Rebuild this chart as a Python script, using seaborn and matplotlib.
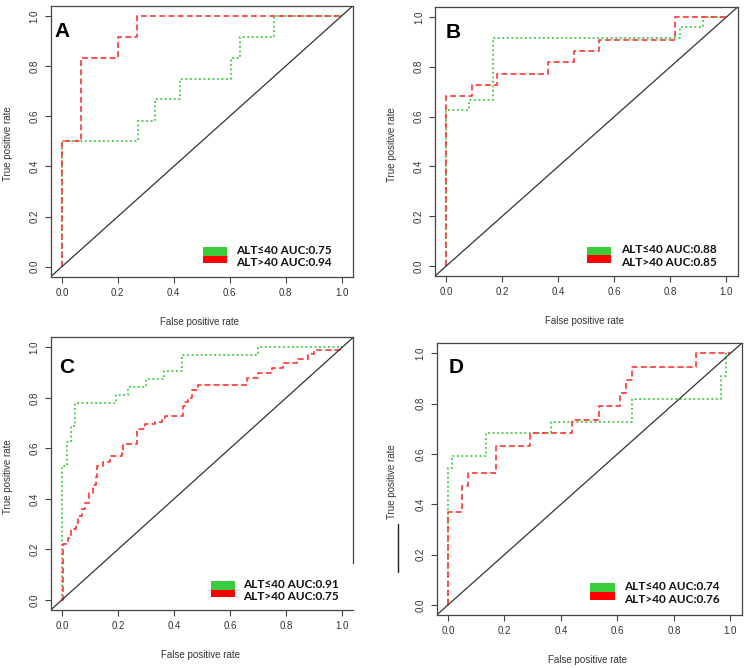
import numpy as np
import pandas as pd
import matplotlib
matplotlib.use('Agg')
import matplotlib.pyplot as plt
from matplotlib.patches import Rectangle
import seaborn as sns

# ROC curves, corner points (steps-post)
a_green_fpr = [0, 0, 0.273, 0.333, 0.424, 0.606, 0.636, 0.758, 1.0]
a_green_tpr = [0, 0.5, 0.583, 0.667, 0.75, 0.833, 0.917, 1.0, 1.0]
a_red_fpr = [0, 0, 0.067, 0.2, 0.267, 1.0]
a_red_tpr = [0, 0.5, 0.833, 0.917, 1.0, 1.0]

b_green_fpr = [0, 0, 0.083, 0.167, 0.833, 0.917, 1.0]
b_green_tpr = [0, 0.625, 0.667, 0.917, 0.958, 1.0, 1.0]
b_red_fpr = [0, 0, 0.091, 0.182, 0.364, 0.455, 0.545, 0.818, 1.0]
b_red_tpr = [0, 0.682, 0.727, 0.773, 0.818, 0.864, 0.909, 1.0, 1.0]

c_green_fpr = [0, 0.001, 0.017, 0.032, 0.046, 0.193, 0.236, 0.299, 0.364, 0.43, 0.70, 1.0]
c_green_tpr = [0, 0.531, 0.625, 0.6875, 0.781, 0.8125, 0.844, 0.875, 0.906, 0.969, 1.0, 1.0]
c_red_fpr = [0, 0.005, 0.023, 0.032, 0.049, 0.058, 0.07, 0.082, 0.098, 0.11, 0.12, 0.127,
             0.148, 0.171, 0.213, 0.219, 0.267, 0.296, 0.332, 0.356, 0.368, 0.433, 0.441,
             0.451, 0.463, 0.487, 0.66, 0.70, 0.749, 0.79, 0.838, 0.88, 0.898, 0.993, 1.0]
c_red_tpr = [0, 0.22, 0.247, 0.279, 0.306, 0.334, 0.36, 0.385, 0.424, 0.455, 0.488, 0.53,
             0.547, 0.569, 0.582, 0.616, 0.675, 0.698, 0.705, 0.721, 0.73, 0.767, 0.785,
             0.80, 0.832, 0.852, 0.878, 0.898, 0.918, 0.937, 0.954, 0.972, 0.99, 1.0, 1.0]

d_green_fpr = [0, 0, 0.015, 0.133, 0.366, 0.65, 0.967, 0.985, 1.0]
d_green_tpr = [0, 0.545, 0.591, 0.682, 0.727, 0.818, 0.909, 1.0, 1.0]
d_red_fpr = [0, 0, 0.051, 0.07, 0.17, 0.292, 0.438, 0.536, 0.609, 0.632, 0.653, 0.879, 1.0]
d_red_tpr = [0, 0.368, 0.474, 0.526, 0.632, 0.684, 0.737, 0.789, 0.842, 0.895, 0.947, 1.0, 1.0]

panel_letters = ['A', 'B', 'C', 'D']
auc_green = [0.75, 0.88, 0.91, 0.74]
auc_red = [0.94, 0.85, 0.75, 0.76]
ticks = [0.0, 0.2, 0.4, 0.6, 0.8, 1.0]

curves = [
    (a_green_fpr, a_green_tpr, a_red_fpr, a_red_tpr),
    (b_green_fpr, b_green_tpr, b_red_fpr, b_red_tpr),
    (c_green_fpr, c_green_tpr, c_red_fpr, c_red_tpr),
    (d_green_fpr, d_green_tpr, d_red_fpr, d_red_tpr),
]

sns.set_style('white')
plt.rcParams['font.family'] = ['Liberation Sans', 'DejaVu Sans']

W, H = 751, 668
fig = plt.figure(figsize=(W / 100, H / 100), dpi=100)

# axes boxes in pixels: left, top, right, bottom
boxes = [(50.7, 6, 352.7, 276.7), (435, 7, 737.7, 276),
         (50.7, 337.3, 353.3, 610), (436.7, 343.3, 741.7, 615)]
letter_pos = [(0.014, 0.905), (0.035, 0.907), (0.028, 0.89), (0.038, 0.91)]
legend_x = [0.503, 0.503, 0.529, 0.503]
legend_text_x = [0.614, 0.614, 0.636, 0.615]
legend_y = [(0.109, 0.0765, 0.0495), (0.109, 0.0765, 0.0495),
            (0.107, 0.073, 0.047), (0.117, 0.0835, 0.055)]

GREEN = '#3acc3a'
RED = '#ff3333'
axis_col = '#444444'

for i, (l, t, r, b) in enumerate(boxes):
    ax = fig.add_axes([l / W, (H - b) / H, (r - l) / W, (b - t) / H])
    gf, gt, rf, rt = curves[i]
    sns.lineplot(x=gf, y=gt, ax=ax, estimator=None, sort=False, drawstyle='steps-post',
                 color=GREEN, linestyle=(0, (1, 1.5)), linewidth=1.3)
    sns.lineplot(x=rf, y=rt, ax=ax, estimator=None, sort=False, drawstyle='steps-post',
                 color=RED, linestyle=(0, (3.5, 2)), linewidth=1.2)
    ax.axline((0, 0), (1, 1), color='#333333', linewidth=0.9)
    ax.set_xlim(-0.04, 1.04)
    ax.set_ylim(-0.04, 1.04)
    ax.set_xticks(ticks)
    ax.set_yticks(ticks)
    ax.set_xticklabels([f'{v:.1f}' for v in ticks])
    ax.set_yticklabels([f'{v:.1f}' for v in ticks], rotation=90, va='center')
    ax.tick_params(direction='out', length=4, width=0.8, color=axis_col,
                   labelsize=7, labelcolor='#333333', pad=4, bottom=True, left=True)
    for sp in ax.spines.values():
        sp.set_visible(True)
        sp.set_color(axis_col)
        sp.set_linewidth(0.9)
    if i == 2:
        ax.spines['right'].set_bounds(0.145, 1.04)

    ax.set_xlabel('False positive rate', fontsize=7, color='#333333')
    ax.set_ylabel('True positive rate', fontsize=7, color='#333333')
    ax.xaxis.set_label_coords(0.494, -0.148)
    ax.yaxis.set_label_coords(-0.124 if i < 3 else -0.131, 0.49)

    lx, ly = letter_pos[i]
    ax.text(lx, ly, panel_letters[i], transform=ax.transAxes, fontsize=15,
            fontweight='bold', ha='left', va='center', color='black')

    gy_top, mid, ry_bot = legend_y[i]
    ax.add_patch(Rectangle((legend_x[i], mid), 0.08, gy_top - mid, transform=ax.transAxes,
                           facecolor=GREEN, edgecolor='none'))
    ax.add_patch(Rectangle((legend_x[i], ry_bot), 0.08, mid - ry_bot, transform=ax.transAxes,
                           facecolor='#ff0000', edgecolor='none'))
    ax.text(legend_text_x[i], gy_top - 0.012, f'ALT\u226440 AUC:{auc_green[i]:.2f}',
            transform=ax.transAxes, fontsize=8.5, fontweight='bold', ha='left', va='center',
            family=['Lato', 'DejaVu Sans'], color='#111111')
    ax.text(legend_text_x[i], ry_bot + 0.002, f'ALT>40 AUC:{auc_red[i]:.2f}',
            transform=ax.transAxes, fontsize=8.5, fontweight='bold', ha='left', va='center',
            family=['Lato', 'DejaVu Sans'], color='#111111')
    if ax.get_legend() is not None:
        ax.get_legend().remove()

# stray vertical stroke left of panel D's y label
fig.add_artist(plt.Line2D([398.3 / W, 398.3 / W], [(H - 524) / H, (H - 572) / H],
                          color='#222222', linewidth=1.0))

fig.savefig('out.png', dpi=100, facecolor='white')
